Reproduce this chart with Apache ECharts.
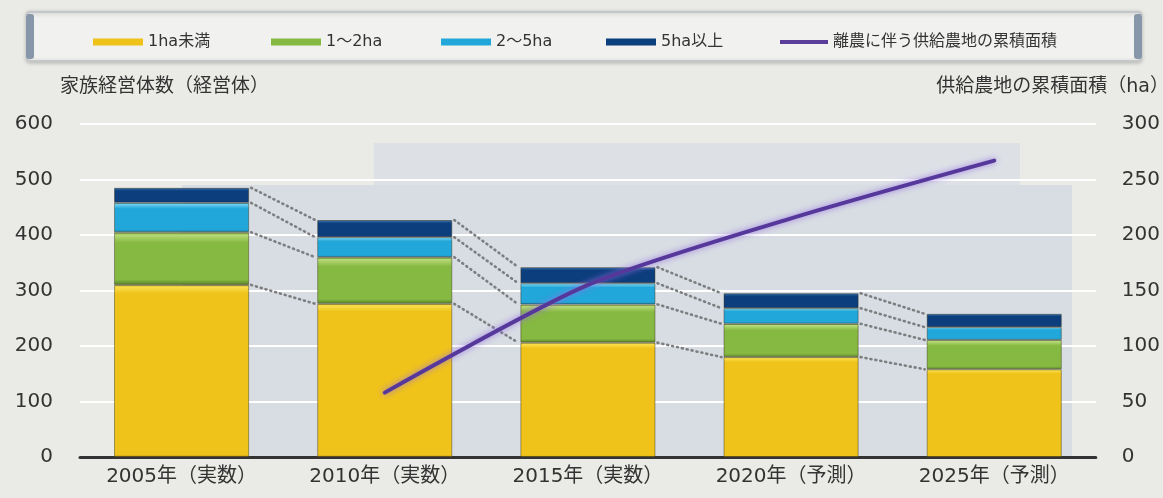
<!DOCTYPE html>
<html>
<head>
<meta charset="utf-8">
<script src="https://cdn.jsdelivr.net/npm/echarts@6/dist/echarts.min.js"></script>
<style>
html,body{margin:0;padding:0;background:#eaeae6;}
#main{width:1163px;height:498px;}
</style>
</head>
<body>
<div id="main"></div>
<script>
const categories = ['2005年（実数）', '2010年（実数）', '2015年（実数）', '2020年（予測）', '2025年（予測）'];
const under1ha = [310, 276, 206, 180, 158];
const ha1to2 = [95, 84, 69, 60, 53];
const ha2to5 = [53, 36, 38, 28, 23];
const over5ha = [27, 31, 29, 27, 24];
const supplyArea = [null, 58, 155, 215, 267];
const seriesNames = ['1ha未満', '1～2ha', '2～5ha', '5ha以上', '離農に伴う供給農地の累積面積'];
const leftAxisName = '家族経営体数（経営体）';
const rightAxisName = '供給農地の累積面積（ha）';

const FONT = '"DejaVu Sans", "Noto Sans CJK JP", sans-serif';
const BAR_RATIO = 0.665;

function grad(hi, main, dark, big) {
  const a = big ? 0.012 : 0.05;
  const b = big ? 0.05 : 0.2;
  const c = big ? 0.985 : 0.9;
  return new echarts.graphic.LinearGradient(0, 0, 0, 1, [
    {offset: 0, color: dark},
    {offset: a, color: hi},
    {offset: b, color: main},
    {offset: c, color: main},
    {offset: 1, color: dark}
  ]);
}
const palette = [
  {solid: '#efc21a', g: grad('#f9e04c', '#f0c31b', '#c99a12', true)},
  {solid: '#86b941', g: grad('#b8da78', '#86b941', '#557f27', false)},
  {solid: '#22a7da', g: grad('#6fd0f1', '#22a7da', '#157fb0', false)},
  {solid: '#0c3f7e', g: grad('#2d6aa8', '#0c3d7c', '#062a5a', false)}
];
const stacks = [under1ha, ha1to2, ha2to5, over5ha];

const chart = echarts.init(document.getElementById('main'), null, {renderer: 'canvas'});

const barSeries = stacks.map((arr, k) => ({
  name: seriesNames[k],
  type: 'bar',
  stack: 'farms',
  barWidth: (BAR_RATIO * 100) + '%',
  z: 3,
  data: arr,
  itemStyle: {color: palette[k].g, borderColor: 'rgba(55,50,25,0.45)', borderWidth: 1},
  emphasis: {disabled: true}
}));

const legendLefts = [88, 266, 436, 601, 775];
const legends = seriesNames.map((n, k) => ({
  left: legendLefts[k],
  top: 29,
  itemWidth: k === 4 ? 48 : 50,
  itemHeight: k === 4 ? 4 : 7,
  itemGap: 4,
  selectedMode: false,
  textStyle: {fontFamily: FONT, fontSize: 16, color: '#333'},
  data: [{name: n, icon: 'rect', itemStyle: {color: k === 4 ? '#5b3d9c' : palette[k].solid, borderWidth: 0}}]
}));

const option = {
  backgroundColor: '#eaeae6',
  animation: false,
  legend: legends,
  grid: {left: 80, right: 58, top: 124, bottom: 41, containLabel: false},
  graphic: [
    {type: 'rect', z: -5, shape: {x: 27, y: 12, width: 1114, height: 49, r: 3},
     style: {fill: '#f1f1ef', stroke: '#c4c7ca', lineWidth: 2, shadowBlur: 4, shadowColor: 'rgba(0,0,0,0.2)', shadowOffsetY: 1}},
    {type: 'rect', z: -4, shape: {x: 26, y: 14, width: 8, height: 45, r: 3},
     style: {fill: '#8796a8'}},
    {type: 'rect', z: -4, shape: {x: 1134, y: 14, width: 8, height: 45, r: 3},
     style: {fill: '#8796a8'}},
    {type: 'rect', z: -5, shape: {x: 182, y: 185, width: 890, height: 272},
     style: {fill: '#d8dde3'}},
    {type: 'rect', z: -5, shape: {x: 374, y: 143, width: 646, height: 42},
     style: {fill: '#dde1e6'}},
    {type: 'text', left: 60, top: 78, style: {text: leftAxisName, font: '19px ' + FONT, fill: '#333'}},
    {type: 'text', right: -6, top: 78, style: {text: rightAxisName, font: '19px ' + FONT, fill: '#333'}}
  ],
  xAxis: {
    type: 'category',
    data: categories,
    boundaryGap: true,
    axisLine: {show: true, lineStyle: {color: '#333', width: 3}},
    axisTick: {show: false},
    axisLabel: {fontFamily: FONT, fontSize: 20, color: '#333', margin: 10}
  },
  yAxis: [
    {
      type: 'value', min: 0, max: 600, interval: 100,
      axisLine: {show: false}, axisTick: {show: false},
      axisLabel: {fontFamily: FONT, fontSize: 20, color: '#333', margin: 27},
      splitLine: {show: true, lineStyle: {color: '#ffffff', width: 2}}
    },
    {
      type: 'value', min: 0, max: 300, interval: 50,
      axisLine: {show: false}, axisTick: {show: false},
      axisLabel: {fontFamily: FONT, fontSize: 20, color: '#333', margin: 26},
      splitLine: {show: false}
    }
  ],
  series: [
    ...barSeries,
    {
      type: 'custom',
      name: 'connectors',
      silent: true,
      z: 2,
      yAxisIndex: 0,
      encode: {x: 0, y: 1},
      data: categories.slice(0, categories.length - 1).map((c, i) => [i, 0]),
      renderItem: function (params, api) {
        const i = params.dataIndex;
        const halfW = api.size([1, 0])[0] * BAR_RATIO / 2;
        const children = [];
        let c0 = 0, c1 = 0;
        for (let k = 0; k < stacks.length; k++) {
          c0 += stacks[k][i];
          c1 += stacks[k][i + 1];
          const p0 = api.coord([i, c0]);
          const p1 = api.coord([i + 1, c1]);
          children.push({
            type: 'line',
            shape: {x1: p0[0] + halfW + 2, y1: p0[1], x2: p1[0] - halfW - 2, y2: p1[1]},
            style: {stroke: '#7c7e80', lineWidth: 2.6, lineDash: [1, 4], lineCap: 'round'}
          });
        }
        return {type: 'group', children: children};
      }
    },
    {
      name: seriesNames[4],
      type: 'line',
      yAxisIndex: 1,
      data: supplyArea,
      smooth: 0.25,
      showSymbol: false,
      symbol: 'none',
      z: 5,
      color: '#5b3d9c',
      lineStyle: {color: '#55389a', width: 4, cap: 'round', shadowBlur: 6, shadowColor: 'rgba(150,110,230,0.9)'},
      emphasis: {disabled: true}
    }
  ]
};
chart.setOption(option);
</script>
</body>
</html>
